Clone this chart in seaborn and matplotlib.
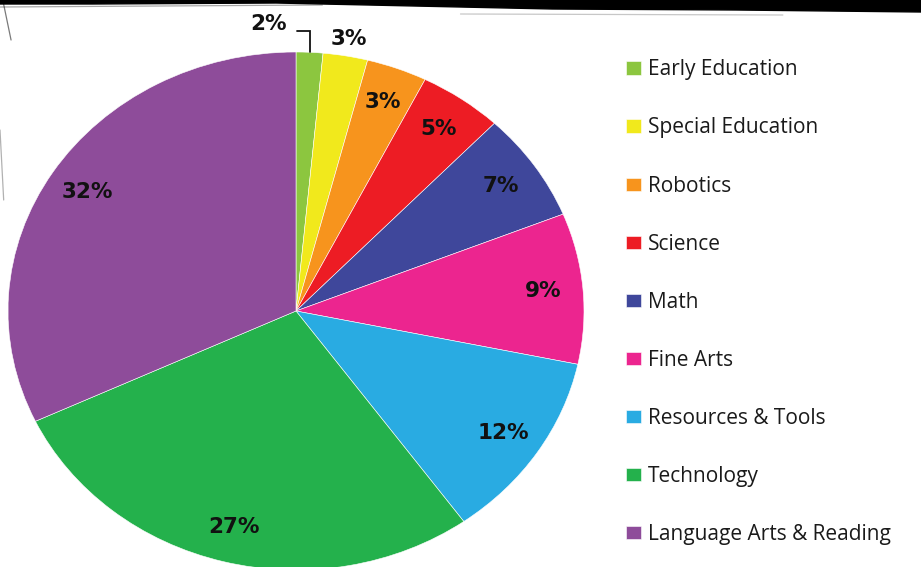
import numpy as np
import matplotlib
matplotlib.use("Agg")
import matplotlib.pyplot as plt
import seaborn as sns
from matplotlib.patches import Polygon

# data
categories = ["Early Education", "Special Education", "Robotics", "Science", "Math",
              "Fine Arts", "Resources & Tools", "Technology", "Language Arts & Reading"]
shares = [1.5, 2.5, 3.4, 4.7, 6.8, 9.4, 11.8, 27.9, 32.0]   # wedge sizes
pct_labels = ["2%", "3%", "3%", "5%", "7%", "9%", "12%", "27%", "32%"]
colors = ["#8cc63f", "#f1e91c", "#f7941d", "#ed1c24", "#3f479b",
          "#ec258f", "#29abe2", "#24b14c", "#8e4c9a"]

sns.set_theme(style="white")
plt.rcParams["font.family"] = ["DejaVu Sans"]

fig = plt.figure(figsize=(9.21, 5.67), dpi=100)
W, H = 921, 567
# pie axes (slightly squashed vertically like the original)
ax = fig.add_axes([8 / W, (H - 570) / H, 576 / W, 518 / H])
wedges, _ = ax.pie(shares, colors=sns.color_palette(colors), startangle=90,
                   counterclock=False, radius=1,
                   wedgeprops=dict(edgecolor="white", linewidth=0.4))
ax.set_aspect("auto")
ax.set_xlim(-1, 1)
ax.set_ylim(-1, 1)
ax.axis("off")

# percentage labels inside wedges
for i, (w, lab) in enumerate(zip(wedges, pct_labels)):
    if i < 2:
        continue
    mid = np.deg2rad((w.theta1 + w.theta2) / 2)
    r = 0.86
    ax.text(r * np.cos(mid), r * np.sin(mid), lab, ha="center", va="center",
            fontsize=15.5, fontweight="bold", color="#111111")

# two small wedges labelled outside
m0 = np.deg2rad((wedges[0].theta1 + wedges[0].theta2) / 2)
x0, y0 = np.cos(m0), np.sin(m0)
ax.plot([x0 - 0.045, x0, x0], [1.08, 1.08, y0],
        color="#111111", lw=1.3, clip_on=False, solid_joinstyle="miter")
ax.text(-0.095, 1.11, pct_labels[0], ha="center", va="center",
        fontsize=15.5, fontweight="bold", color="#111111")
m1 = np.deg2rad((wedges[1].theta1 + wedges[1].theta2) / 2)
ax.text(np.cos(m1) + 0.01, 1.05, pct_labels[1], ha="center", va="center",
        fontsize=15.5, fontweight="bold", color="#111111")

# legend
fig.legend(wedges, categories, loc="upper left",
           bbox_to_anchor=(616 / W, 1 - 49 / H), frameon=False,
           prop={"family": ["Open Sans", "DejaVu Sans"], "size": 15},
           handlelength=0.72, handleheight=0.62, handletextpad=0.3,
           labelspacing=1.78, borderpad=0, labelcolor="#1a1a1a")

# grungy brush stroke along the top
top = Polygon([(0, 1), (1, 1), (1, 1 - 12 / H), (0.8, 1 - 10 / H), (0.6, 1 - 9 / H),
               (0.45, 1 - 6 / H), (0.3, 1 - 3 / H), (0.1, 1 - 4 / H), (0, 1 - 4 / H)],
              closed=True, transform=fig.transFigure, color="black", zorder=5)
fig.add_artist(top)
for xs, ys, a in [([0.0, 0.35], [1 - 7 / H, 1 - 5 / H], 0.4),
                  ([0.5, 0.85], [1 - 14 / H, 1 - 15 / H], 0.25),
                  ([0.003, 0.012], [1, 1 - 40 / H], 0.6),
                  ([0.0, 0.004], [1 - 130 / H, 1 - 200 / H], 0.35)]:
    fig.add_artist(plt.Line2D(xs, ys, transform=fig.transFigure,
                              color="#222222", lw=0.9, alpha=a))

fig.savefig("out.png", dpi=100)
